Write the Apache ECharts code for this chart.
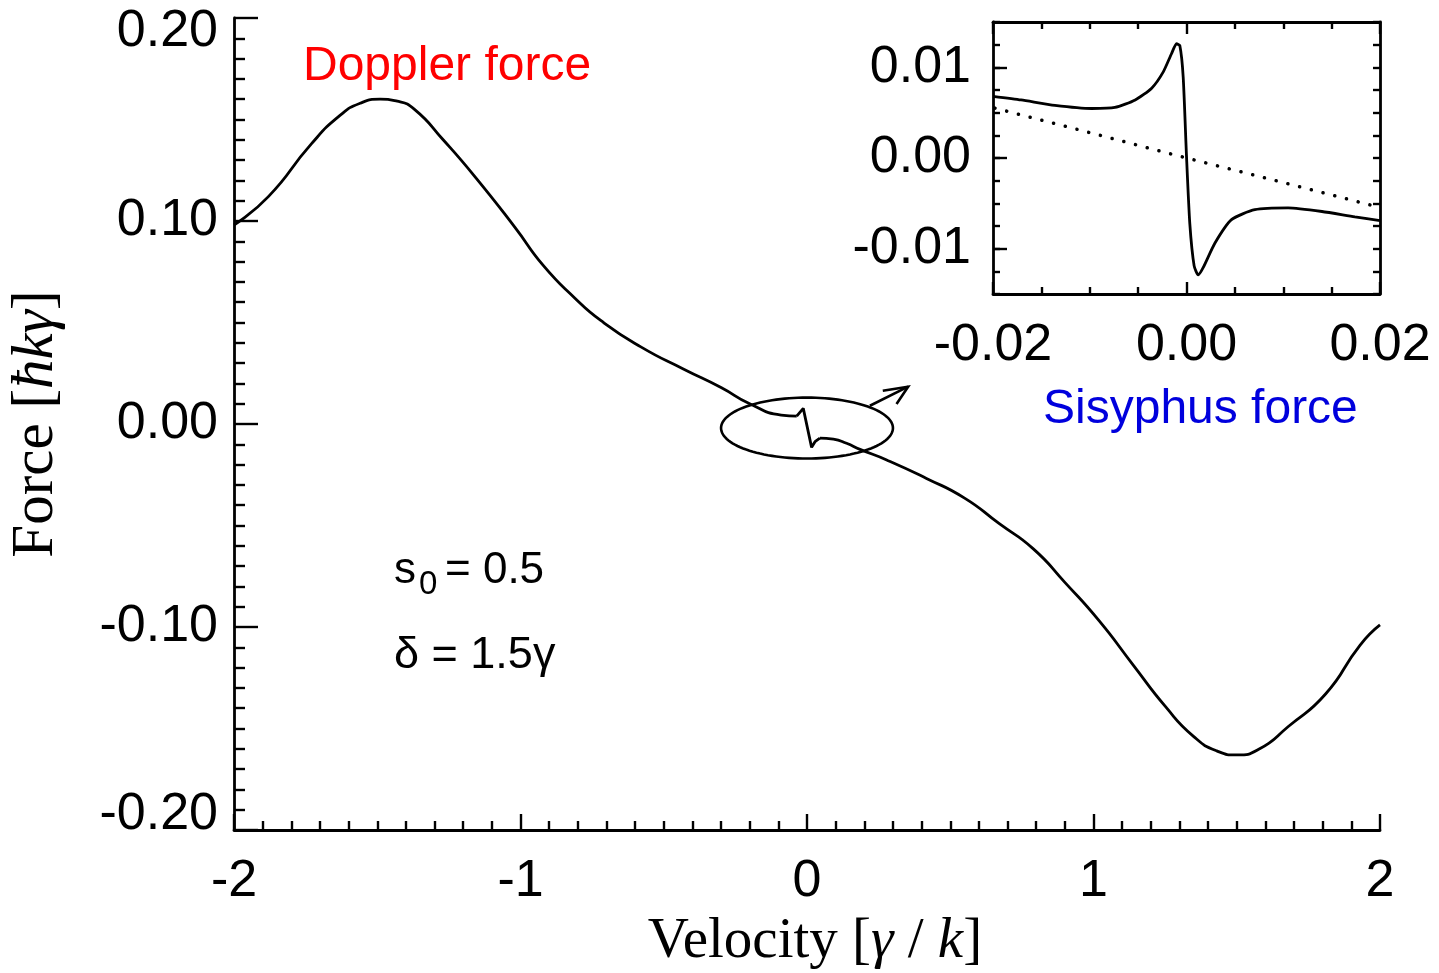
<!DOCTYPE html>
<html>
<head>
<meta charset="utf-8">
<script src="https://cdn.jsdelivr.net/npm/echarts@6/dist/echarts.min.js"></script>
<style>
html,body{margin:0;padding:0;background:#fff;}
#chart{width:1439px;height:973px;}
</style>
</head>
<body>
<div id="chart"></div>
<script>
// ---- main chart: total force vs velocity ----
const mainVelocity = [-2.00,-1.88,-1.73,-1.63,-1.56,-1.49,-1.43,-1.37,-1.27,-1.16,-1.02,-0.92,-0.81,-0.72,-0.58,-0.43,-0.30,-0.20,-0.09,-0.036,
  -0.013,0.016,0.028,0.045,
  0.092,0.138,0.185,0.278,0.417,0.55,0.67,0.79,0.90,1.02,1.14,1.25,1.35,1.43,1.50,1.58,1.68,1.81,1.93,2.00];
const mainForce = [0.098,0.112,0.138,0.152,0.158,0.160,0.159,0.155,0.140,0.122,0.097,0.078,0.062,0.051,0.038,0.027,0.018,0.010,0.0044,0.0039,
  0.0077,-0.0115,-0.0087,-0.0070,
  -0.0075,-0.0095,-0.0125,-0.0177,-0.0268,-0.0365,-0.049,-0.0615,-0.078,-0.097,-0.119,-0.139,-0.154,-0.161,-0.163,-0.160,-0.149,-0.133,-0.109,-0.099];
const spikeStart = -0.036, spikeEnd = 0.045;

// ---- inset: zoom around v = 0 ----
const insetVelocity = [-0.0200,-0.0171,-0.0136,-0.0098,-0.0074,-0.0053,-0.0036,-0.0024,-0.00155,-0.00103,-0.00069,-0.00034,0,0.00034,0.00079,0.00121,0.00172,0.00293,0.00465,0.00706,0.0105,0.0140,0.0174,0.0200];
const insetForce = [0.0068,0.0064,0.0058,0.00546,0.00557,0.0064,0.0077,0.0095,0.0115,0.0126,0.0124,0.0089,0.0002,-0.0072,-0.0119,-0.0129,-0.0121,-0.0094,-0.0068,-0.0057,-0.0055,-0.0059,-0.0065,-0.0069];
const dopplerVelocity = [-0.0198,-0.0100,0,0.0100,0.0198];
const dopplerForce = [0.0055,0.0028,0.0000,-0.0027,-0.0054];

// ---- axis ticks / labels ----
const mainXRange = [-2, 2], mainXInterval = 1;
const mainYRange = [-0.2, 0.2], mainYInterval = 0.1;
const insetXRange = [-0.02, 0.02], insetXInterval = 0.02;
const insetYRange = [-0.015, 0.015], insetYInterval = 0.005;
const insetYMajor = [-0.01, 0, 0.01];

const zip = (xs, ys) => xs.map((x, i) => [x, ys[i]]);
const mainPts = zip(mainVelocity, mainForce);
const leftPts = mainPts.filter(p => p[0] <= spikeStart);
const spikePts = mainPts.filter(p => p[0] >= spikeStart && p[0] <= spikeEnd);
const rightPts = mainPts.filter(p => p[0] >= spikeEnd);

const SANS = 'Liberation Sans, Arial, Helvetica, sans-serif';
const SERIF = 'Liberation Serif, Times New Roman, serif';
const BLACK = '#000';

const chart = echarts.init(document.getElementById('chart'), null, {renderer: 'canvas'});

const lineCol = {color: BLACK, width: 2.8};
const tickCol = {color: BLACK, width: 2.4};

const option = {
  animation: false,
  backgroundColor: '#fff',
  grid: [
    {left: 234, right: 59, top: 18, bottom: 143, containLabel: false, outerBoundsMode: 'none'},
    {left: 993, right: 59, top: 22, bottom: 679, containLabel: false, outerBoundsMode: 'none'}
  ],
  xAxis: [
    { // main
      type: 'value', gridIndex: 0, min: mainXRange[0], max: mainXRange[1], interval: mainXInterval,
      axisLine: {show: true, onZero: false, lineStyle: lineCol},
      axisTick: {show: true, inside: true, length: 16, lineStyle: tickCol},
      minorTick: {show: true, splitNumber: 10, length: 9, lineStyle: tickCol},
      splitLine: {show: false}, minorSplitLine: {show: false},
      axisLabel: {show: true, margin: 26, fontFamily: SANS, fontSize: 52, color: BLACK,
        formatter: v => String(Math.round(v))},
      name: 'Velocity [{i|γ} / {i|k}]', nameLocation: 'middle', nameGap: 84,
      nameTextStyle: {fontFamily: SERIF, fontSize: 57, color: BLACK, padding: [0, 0, 0, 16],
        rich: {i: {fontFamily: SERIF, fontStyle: 'italic', fontSize: 57, color: BLACK}}}
    },
    { // inset bottom
      type: 'value', gridIndex: 1, min: insetXRange[0], max: insetXRange[1], interval: insetXInterval,
      axisLine: {show: true, onZero: false, lineStyle: lineCol},
      axisTick: {show: true, inside: true, length: 12, lineStyle: tickCol},
      minorTick: {show: true, splitNumber: 4, length: 7, lineStyle: tickCol},
      splitLine: {show: false},
      axisLabel: {show: true, margin: 26, fontFamily: SANS, fontSize: 52, color: BLACK,
        formatter: v => v.toFixed(2)}
    },
    { // inset top
      type: 'value', gridIndex: 1, position: 'top', min: insetXRange[0], max: insetXRange[1], interval: insetXInterval,
      axisLine: {show: true, onZero: false, lineStyle: lineCol},
      axisTick: {show: true, inside: true, length: 12, lineStyle: tickCol},
      minorTick: {show: true, splitNumber: 4, length: 7, lineStyle: tickCol},
      splitLine: {show: false}, axisLabel: {show: false}
    }
  ],
  yAxis: [
    { // main
      type: 'value', gridIndex: 0, min: mainYRange[0], max: mainYRange[1], interval: mainYInterval,
      axisLine: {show: true, onZero: false, lineStyle: lineCol},
      axisTick: {show: true, inside: true, length: 24, lineStyle: tickCol},
      minorTick: {show: true, splitNumber: 10, length: 11, lineStyle: tickCol},
      splitLine: {show: false}, minorSplitLine: {show: false},
      axisLabel: {show: true, margin: 16, fontFamily: SANS, fontSize: 52, color: BLACK,
        formatter: v => {
          const s = v.toFixed(2);
          if (Math.abs(v - mainYRange[1]) < 1e-9) return '{top|' + s + '}';
          if (Math.abs(v - mainYRange[0]) < 1e-9) return '{bot|' + s + '}';
          return s;
        },
        rich: {
          top: {fontFamily: SANS, fontSize: 52, color: BLACK, padding: [28, 0, 0, 0]},
          bot: {fontFamily: SANS, fontSize: 52, color: BLACK, padding: [0, 0, 30, 0]}
        }},
      name: 'Force [{i|ħkγ}]', nameLocation: 'middle', nameGap: 168, nameRotate: 90,
      nameTextStyle: {fontFamily: SERIF, fontSize: 59, color: BLACK,
        rich: {i: {fontFamily: SERIF, fontStyle: 'italic', fontSize: 59, color: BLACK}}}
    },
    { // inset left
      type: 'value', gridIndex: 1, position: 'left', min: insetYRange[0], max: insetYRange[1], interval: insetYInterval,
      axisLine: {show: true, onZero: false, lineStyle: lineCol},
      axisTick: {show: true, inside: true, length: 7, lineStyle: tickCol},
      minorTick: {show: true, splitNumber: 2, length: 7, lineStyle: tickCol},
      splitLine: {show: false},
      axisLabel: {show: true, margin: 22, fontFamily: SANS, fontSize: 52, color: BLACK,
        formatter: v => insetYMajor.some(m => Math.abs(m - v) < 1e-9) ? v.toFixed(2) : ''}
    },
    { // inset left major ticks
      type: 'value', gridIndex: 1, position: 'left', min: insetYRange[0], max: insetYRange[1], interval: 0.015,
      axisLine: {show: false, onZero: false},
      axisTick: {show: true, inside: true, length: 14, lineStyle: tickCol, customValues: insetYMajor},
      splitLine: {show: false}, axisLabel: {show: false}
    },
    { // inset right
      type: 'value', gridIndex: 1, position: 'right', min: insetYRange[0], max: insetYRange[1], interval: insetYInterval,
      axisLine: {show: true, onZero: false, lineStyle: lineCol},
      axisTick: {show: true, inside: true, length: 7, lineStyle: tickCol},
      minorTick: {show: true, splitNumber: 2, length: 7, lineStyle: tickCol},
      splitLine: {show: false}, axisLabel: {show: false}
    }
  ],
  series: [
    {type: 'line', xAxisIndex: 0, yAxisIndex: 0, data: leftPts, smooth: 0.55, symbol: 'none',
      lineStyle: {color: BLACK, width: 2.8}, z: 5},
    {type: 'line', xAxisIndex: 0, yAxisIndex: 0, data: spikePts, smooth: false, symbol: 'none',
      lineStyle: {color: BLACK, width: 2.8}, z: 5},
    {type: 'line', xAxisIndex: 0, yAxisIndex: 0, data: rightPts, smooth: 0.55, symbol: 'none',
      lineStyle: {color: BLACK, width: 2.8}, z: 5},
    {type: 'line', xAxisIndex: 1, yAxisIndex: 1, data: zip(insetVelocity, insetForce), smooth: 0.2,
      symbol: 'none', lineStyle: {color: BLACK, width: 2.8}, z: 5},
    {type: 'line', xAxisIndex: 1, yAxisIndex: 1, data: zip(dopplerVelocity, dopplerForce), smooth: false,
      symbol: 'none', lineStyle: {color: BLACK, width: 3.5, type: [0.1, 12], cap: 'round'}, z: 5}
  ]
};
chart.setOption(option);

// ---- annotations (positioned from data coordinates of the main chart) ----
const ellipseCenter = [0.0, -0.002], ellipseRadii = [0.30, 0.015];
const arrowTail = [0.2195, 0.0090], arrowTip = [0.353, 0.0184];
const arrowArms = [[0.2645, 0.0164], [0.3125, 0.0099]];
const toPx = p => chart.convertToPixel({gridIndex: 0}, p);

const c = toPx(ellipseCenter);
const e1 = toPx([ellipseCenter[0] + ellipseRadii[0], ellipseCenter[1] + ellipseRadii[1]]);
const rx = Math.abs(e1[0] - c[0]), ry = Math.abs(e1[1] - c[1]);
const ellPts = [];
for (let k = 0; k < 120; k++) {
  const t = k / 120 * Math.PI * 2;
  ellPts.push([c[0] + rx * Math.cos(t), c[1] + ry * Math.sin(t)]);
}
const tail = toPx(arrowTail), tip = toPx(arrowTip);
const arm1 = toPx(arrowArms[0]), arm2 = toPx(arrowArms[1]);

chart.setOption({
  graphic: [
    {type: 'polygon', shape: {points: ellPts}, style: {fill: 'none', stroke: BLACK, lineWidth: 2.6}, z: 10},
    {type: 'polyline', shape: {points: [tail, tip]}, style: {stroke: BLACK, lineWidth: 2.6, fill: 'none'}, z: 10},
    {type: 'polyline', shape: {points: [arm1, tip, arm2]}, style: {stroke: BLACK, lineWidth: 2.6, fill: 'none', lineJoin: 'miter'}, z: 10},
    {type: 'text', x: 303, y: 67, style: {text: 'Doppler force', font: '48px ' + SANS, fill: '#ff0000', verticalAlign: 'middle', align: 'left'}, z: 10},
    {type: 'text', x: 1043, y: 410, style: {text: 'Sisyphus force', font: '48px ' + SANS, fill: '#0000dd', verticalAlign: 'middle', align: 'left'}, z: 10},
    {type: 'text', x: 394, y: 571, style: {text: 's', font: '44px ' + SANS, fill: BLACK, verticalAlign: 'middle', align: 'left'}, z: 10},
    {type: 'text', x: 419, y: 585, style: {text: '0', font: '33px ' + SANS, fill: BLACK, verticalAlign: 'middle', align: 'left'}, z: 10},
    {type: 'text', x: 445, y: 571, style: {text: '= 0.5', font: '44px ' + SANS, fill: BLACK, verticalAlign: 'middle', align: 'left'}, z: 10},
    {type: 'text', x: 394, y: 656, style: {text: 'δ = 1.5γ', font: '45px ' + SANS, fill: BLACK, verticalAlign: 'middle', align: 'left'}, z: 10}
  ]
});
</script>
</body>
</html>
